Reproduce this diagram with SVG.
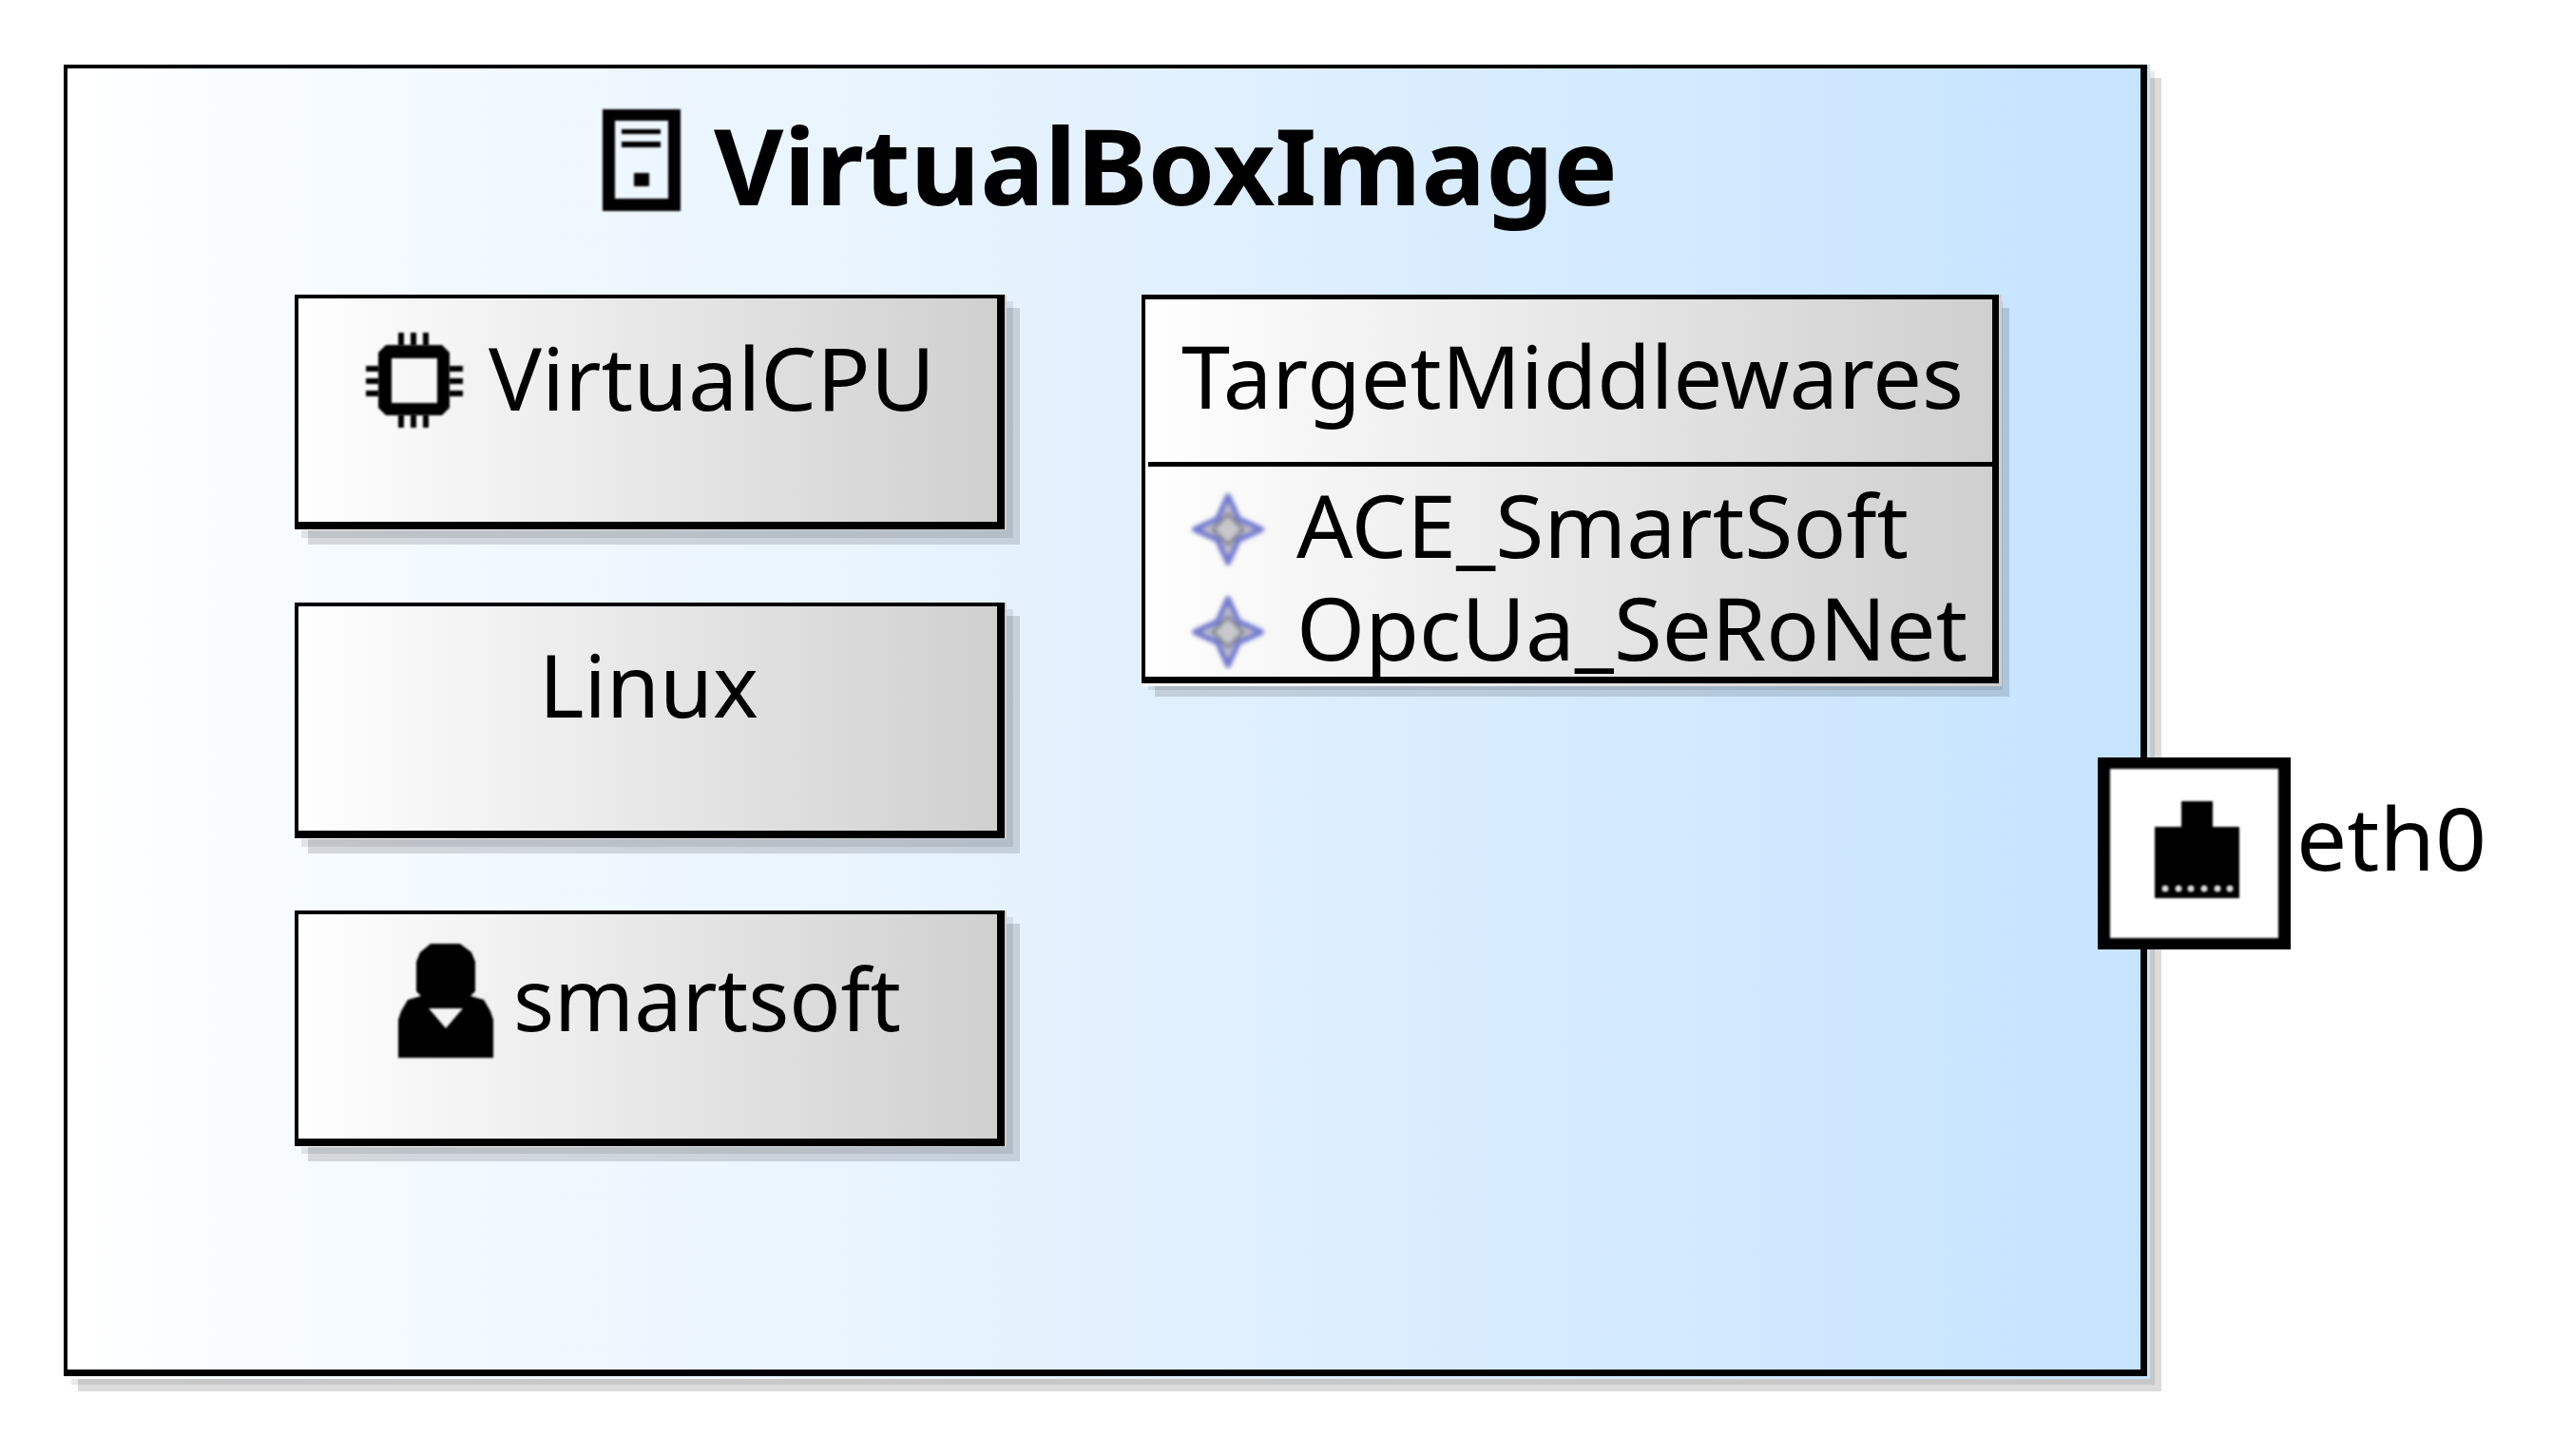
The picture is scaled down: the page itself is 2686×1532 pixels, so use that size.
<svg xmlns="http://www.w3.org/2000/svg" width="2686" height="1532" viewBox="0 0 2686 1532">
<style>
text{font-family:"Noto Sans","Open Sans","Liberation Sans",sans-serif;font-size:91px;fill:#000}
.title{font-size:111px;font-weight:700}
.s2{fill:#000;fill-opacity:.137}
.s1{fill:#000;fill-opacity:.09}
.n{fill:url(#gn)}
.o{fill:url(#go)}
.ic{fill:#000;filter:url(#b1)}
</style>
<defs>
<linearGradient id="go"><stop offset="0" stop-color="#fff"/><stop offset=".15" stop-color="#f4faff"/><stop offset=".5" stop-color="#e3f1fe"/><stop offset="1" stop-color="#c5e3ff"/></linearGradient>
<linearGradient id="gn"><stop offset="0" stop-color="#fff"/><stop offset="1" stop-color="#cfcfcf"/></linearGradient>
<filter id="b1" x="-10%" y="-10%" width="120%" height="120%"><feGaussianBlur stdDeviation="1"/></filter>
<filter id="b2" x="-20%" y="-20%" width="140%" height="140%"><feGaussianBlur stdDeviation="2.2"/></filter>
<clipPath id="rows"><rect x="1205" y="491" width="891" height="221"/></clipPath>
<g id="star" filter="url(#b2)"><path d="M0-35L11-11 35 0 11 11 0 35-11 11-35 0-11-11Z" fill="#c4c4ca" stroke="#747cd0" stroke-width="6" stroke-linejoin="round"/><path d="M0-16L16 0 0 16-16 0Z" fill="#c8c8cc" stroke="#868694" stroke-width="4"/></g>
</defs>
<rect width="2686" height="1532" fill="#fff"/>

<g id="VirtualBoxImage">
<rect class="s2" x="82" y="82" width="2192" height="1382"/>
<rect class="s1" x="75" y="75" width="2192" height="1382"/>
<rect class="o" x="68" y="68" width="2194" height="1383"/>
<path fill-rule="evenodd" d="M67 68H2259V1448H67ZM71 72V1441H2252V72Z"/>
<path class="ic" fill-rule="evenodd" d="M634 115H716V222H634ZM647 127V209H703V127Z"/>
<g class="ic"><rect x="654" y="136" width="41" height="5"/><rect x="654" y="149" width="41" height="6"/><rect x="667" y="182" width="16" height="14"/></g>
<text class="title" x="751" y="216" textLength="951" lengthAdjust="spacingAndGlyphs">VirtualBoxImage</text>
</g>

<g id="VirtualCPU">
<rect class="s2" x="324" y="324" width="749" height="249"/>
<rect class="s1" x="317" y="317" width="749" height="249"/>
<rect class="n" x="310" y="310" width="749" height="248"/>
<path fill-rule="evenodd" d="M310 310H1057V557H310ZM314 314V549H1049V314Z"/>
<path class="ic" fill-rule="evenodd" d="M406 363H465L473 371V429L465 437H406L398 429V371ZM412 377V424H460V377Z"/>
<g class="ic"><rect x="419" y="350" width="6" height="14"/><rect x="432" y="350" width="6" height="14"/><rect x="445" y="350" width="6" height="14"/><rect x="419" y="436" width="6" height="14"/><rect x="432" y="436" width="6" height="14"/><rect x="445" y="436" width="6" height="14"/><rect x="385" y="385" width="14" height="6"/><rect x="385" y="398" width="14" height="6"/><rect x="385" y="411" width="14" height="6"/><rect x="472" y="385" width="15" height="6"/><rect x="472" y="398" width="15" height="6"/><rect x="472" y="411" width="15" height="6"/></g>
<text x="514" y="432" textLength="470" lengthAdjust="spacingAndGlyphs">VirtualCPU</text>
</g>

<g id="Linux">
<rect class="s2" x="324" y="648" width="749" height="250"/>
<rect class="s1" x="317" y="641" width="749" height="250"/>
<rect class="n" x="310" y="634" width="749" height="249"/>
<path fill-rule="evenodd" d="M310 634H1057V882H310ZM314 638V874H1049V638Z"/>
<text x="567" y="755" textLength="231" lengthAdjust="spacingAndGlyphs">Linux</text>
</g>

<g id="smartsoft">
<rect class="s2" x="324" y="972" width="749" height="250"/>
<rect class="s1" x="317" y="965" width="749" height="249"/>
<rect class="n" x="310" y="958" width="749" height="249"/>
<path fill-rule="evenodd" d="M310 958H1057V1206H310ZM314 962V1198H1049V962Z"/>
<path class="ic" d="M453 993H484L496 1002 500 1012V1043L495 1048 509 1052 516 1064 519 1073V1113H419V1073L422 1064 429 1052 443 1048 438 1043V1012L442 1002Z"/>
<path d="M451 1061H487L469 1082Z" fill="#f4f4f4" filter="url(#b1)"/>
<text x="540" y="1085" textLength="408" lengthAdjust="spacingAndGlyphs">smartsoft</text>
</g>

<g id="TargetMiddlewares">
<rect class="s2" x="1215" y="324" width="899" height="409"/>
<rect class="s1" x="1208" y="317" width="899" height="409"/>
<rect class="n" x="1201" y="310" width="905" height="412"/>
<text x="1243" y="430" textLength="823" lengthAdjust="spacingAndGlyphs">TargetMiddlewares</text>
<rect x="1208" y="486" width="888" height="5"/>
<use href="#star" x="1292" y="557"/>
<use href="#star" x="1292" y="665"/>
<g clip-path="url(#rows)">
<text x="1364" y="587" textLength="644" lengthAdjust="spacingAndGlyphs">ACE_SmartSoft</text>
<text x="1364" y="695" textLength="706" lengthAdjust="spacingAndGlyphs">OpcUa_SeRoNet</text>
</g>
<path fill-rule="evenodd" d="M1201 310H2103V719H1201ZM1205 315V712H2096V315Z"/>
</g>

<g id="eth0">
<rect x="2207" y="797" width="203" height="202"/>
<rect x="2220" y="809" width="177" height="178" fill="#fff" filter="url(#b1)"/>
<path class="ic" d="M2295 843H2328V870H2356V945H2267V870H2295Z"/>
<g fill="#fff" fill-opacity=".85" filter="url(#b1)"><circle cx="2278" cy="935" r="3.5"/><circle cx="2292" cy="935" r="3.5"/><circle cx="2305" cy="935" r="3.5"/><circle cx="2319" cy="935" r="3.5"/><circle cx="2333" cy="935" r="3.5"/><circle cx="2346" cy="935" r="3.5"/></g>
<text x="2416" y="916" textLength="200" lengthAdjust="spacingAndGlyphs">eth0</text>
</g>

<g id="connectors"/>
</svg>
